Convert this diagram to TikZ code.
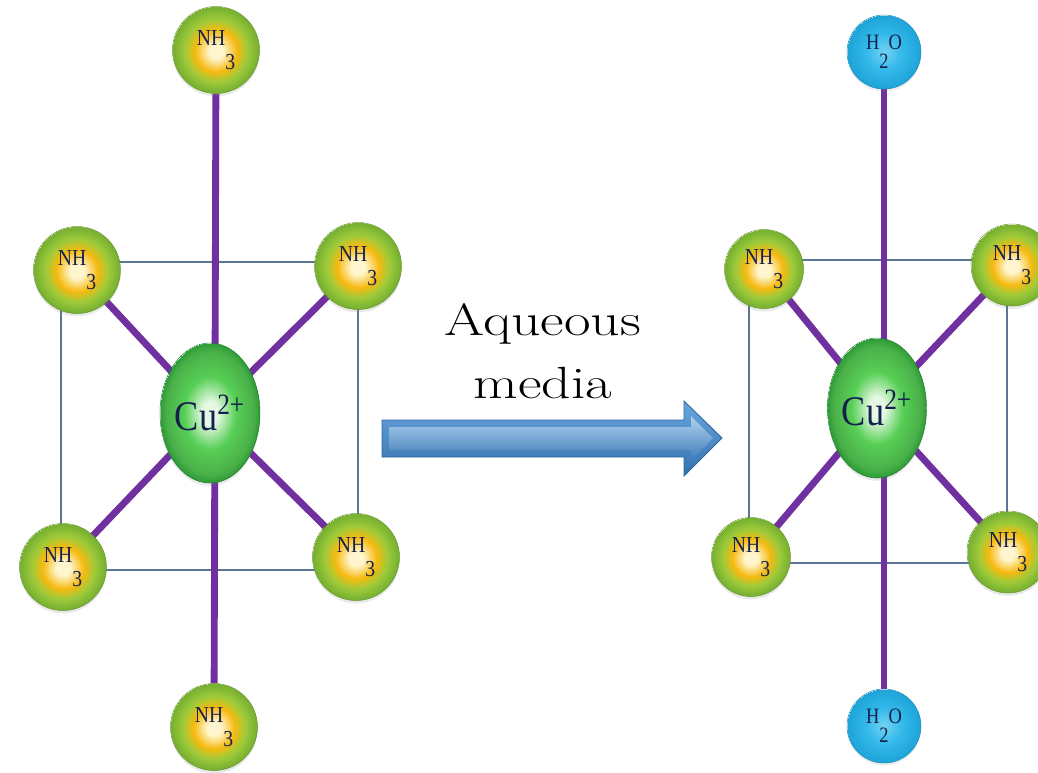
\documentclass[tikz,border=0pt]{standalone}
\usepackage{fontspec}
\usepackage{graphicx}
\newfontfamily\ligandfont{Liberation Serif}
\usetikzlibrary{shapes.geometric, shadows, positioning}

\definecolor{bondpurple}{HTML}{7030A0}
\definecolor{framegray}{HTML}{5B7694}
\definecolor{labelnavy}{HTML}{14214D}
\definecolor{coreyellow}{HTML}{FFF6CF}
\definecolor{ringorange}{HTML}{F6B90F}
\definecolor{limegreen}{HTML}{9FCB3A}
\definecolor{rimgreen}{HTML}{79B232}
\definecolor{aquacore}{HTML}{74D3F3}
\definecolor{aquamid}{HTML}{34B9EA}
\definecolor{aquarim}{HTML}{1FA5D9}
\definecolor{cucore}{HTML}{E6F8E4}
\definecolor{cumid}{HTML}{57CF55}
\definecolor{curim}{HTML}{2C9B37}
\definecolor{arrowlight}{HTML}{B0D2F0}
\definecolor{arrowmid}{HTML}{69A6DE}
\definecolor{arrowdark}{HTML}{3572AE}

\pgfdeclareradialshading{ammineball}{\pgfpoint{0bp}{-1bp}}{%
  color(0bp)=(coreyellow); color(4bp)=(coreyellow); color(12bp)=(ringorange);
  color(18bp)=(limegreen); color(24bp)=(rimgreen); color(25bp)=(rimgreen)}
\pgfdeclareradialshading{aquaball}{\pgfpoint{0bp}{0bp}}{%
  color(0bp)=(aquacore); color(12bp)=(aquamid); color(24bp)=(aquarim); color(25bp)=(aquarim)}
\pgfdeclareradialshading{copperball}{\pgfpoint{0bp}{0bp}}{%
  color(0bp)=(cucore); color(4bp)=(cucore); color(13bp)=(cumid);
  color(22bp)=(cumid!85!black); color(25bp)=(curim)}

\pgfdeclarelayer{back}
\pgfsetlayers{back,main}

% ligand labels in a narrow serif, subscript set well below the symbol
\newcommand{\ammlabel}{\scalebox{0.86}[1]{NH\raisebox{-13.5pt}{3}}}
\newcommand{\aqualabel}{\scalebox{0.84}[1]{H\raisebox{-11pt}{2}O}}
\newcommand{\cationlabel}{\scalebox{0.86}[1]{Cu\textsuperscript{2+}}}

\tikzset{
  ammine/.style={circle, inner sep=0pt, minimum size=1.74cm, shading=ammineball,
    draw=rimgreen!85!black, line width=0.3pt, text=labelnavy,
    font=\ligandfont\fontsize{13}{14}\selectfont,
    drop shadow={opacity=0.18, shadow xshift=0pt, shadow yshift=-1.6pt}},
  aqua/.style={circle, inner sep=0pt, minimum size=1.48cm, shading=aquaball,
    draw=aquarim!85!black, line width=0.3pt, text=labelnavy,
    font=\ligandfont\fontsize{12.5}{13}\selectfont,
    drop shadow={opacity=0.15, shadow xshift=0pt, shadow yshift=-1.4pt}},
  cation/.style={ellipse, inner sep=0pt, minimum height=2.8cm, shading=copperball,
    draw=curim!80!black, line width=0.3pt, text=labelnavy,
    font=\ligandfont\fontsize{24}{25}\selectfont,
    drop shadow={opacity=0.18, shadow xshift=0pt, shadow yshift=-1.6pt}},
  bond/.style={draw=bondpurple, line width=3.9pt},
  frame/.style={draw=framegray, line width=0.6pt},
  caption/.style={anchor=base, font=\fontsize{25.7}{30}\selectfont}
}

\begin{document}
\begin{tikzpicture}[x=0.02cm, y=-0.02cm]
  \useasboundingbox (0,0) rectangle (1038,772);

  % ---- tetraammine complex with axial ammines ----
  \node[cation, minimum width=2.0cm] (cuA) at (210,413) {\cationlabel};
  \node[ammine] (topA) at (216,50) {\ammlabel};
  \node[ammine] (botA) at (214,727) {\ammlabel};
  \node[ammine] (ulA) at (77,270) {\ammlabel};
  \node[ammine] (urA) at (358,266) {\ammlabel};
  \node[ammine] (llA) at (63,567) {\ammlabel};
  \node[ammine] (lrA) at (356,557) {\ammlabel};

  % ---- complex with axial water ----
  \node[cation, minimum width=1.76cm] (cuB) at (877,408) {\cationlabel};
  \node[aqua] (topB) at (884,52) {\aqualabel};
  \node[aqua] (botB) at (884,726) {\aqualabel};
  \node[ammine, minimum size=1.58cm] (ulB) at (764,269) {\ammlabel};
  \node[ammine, minimum size=1.64cm] (urB) at (1012,265) {\ammlabel};
  \node[ammine, minimum size=1.58cm] (llB) at (751,557) {\ammlabel};
  \node[ammine, minimum size=1.64cm] (lrB) at (1008,552) {\ammlabel};

  \begin{pgfonlayer}{back}
    \draw[frame] (61,262) rectangle (358,570);
    \draw[frame] (749,260) rectangle (1007,563);
    \draw[bond] (topA) -- (botA);
    \draw[bond] (topB) -- (botB);
    \foreach \lig in {ulA,urA,llA,lrA}
      \draw[bond] (\lig.center) -- (cuA.center);
    \foreach \lig in {ulB,urB,llB,lrB}
      \draw[bond] (\lig.center) -- (cuB.center);
  \end{pgfonlayer}

  % ---- reaction arrow ----
  \shade[top color=arrowmid, bottom color=arrowdark, draw=arrowdark!90!black, line width=0.5pt]
    (382,420) -- (684,420) -- (684,401) -- (722,438) -- (684,476) -- (684,457) -- (382,457) -- cycle;
  \shade[top color=arrowlight, middle color=arrowmid, bottom color=arrowdark!85!arrowmid]
    (389,427) -- (691,427) -- (691,416) -- (713,438) -- (691,461) -- (691,450) -- (389,450) -- cycle;

  \node[caption] (aqueous) at (543,335) {\scalebox{1.28}[1]{Aqueous}};
  \node[caption] (media) at (543,398) {\scalebox{1.28}[1]{media}};
\end{tikzpicture}
\end{document}
